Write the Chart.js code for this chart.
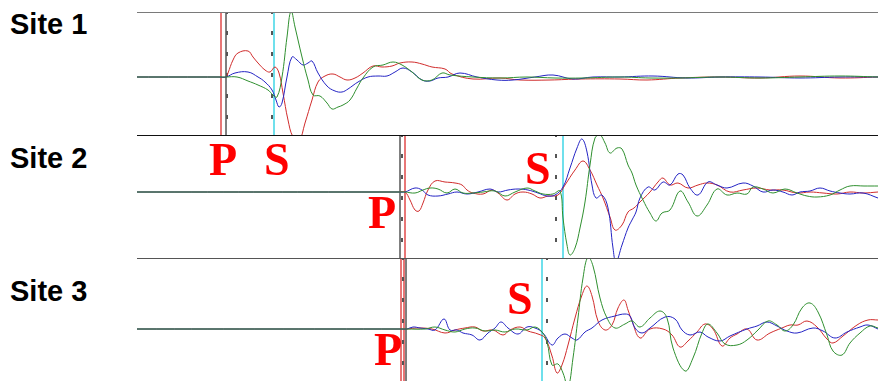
<!DOCTYPE html>
<html>
<head>
<meta charset="utf-8">
<script src="https://cdn.jsdelivr.net/npm/chart.js@4.4.0/dist/chart.umd.min.js"></script>
<style>
  body { margin: 0; background: #fff; width: 878px; height: 381px; overflow: hidden; position: relative; }
  canvas { position: absolute; left: 137px; }
  .rule { position: absolute; left: 137px; width: 741px; height: 1px; }
  .site { position: absolute; left: 10px; font: bold 29px "Liberation Sans", Arial, sans-serif; line-height: 1; color: #000; }
  .pick { position: absolute; font: bold 46px "Liberation Serif", "Times New Roman", serif; line-height: 1; color: #f00; }
</style>
</head>
<body>
<div class="rule" style="top:12px;background:#7a7a7a"></div>
<div class="rule" style="top:135px;background:#111"></div>
<div class="rule" style="top:258px;background:#555"></div>
<canvas id="site1" width="741" height="122" style="top:13px"></canvas>
<canvas id="site2" width="741" height="122" style="top:136px"></canvas>
<canvas id="site3" width="741" height="122" style="top:259px"></canvas>

<div class="site" style="top:10px">Site 1</div>
<div class="site" style="top:144px">Site 2</div>
<div class="site" style="top:277px">Site 3</div>

<div class="pick" style="left:209px;top:137px">P</div>
<div class="pick" style="left:264px;top:137px">S</div>
<div class="pick" style="left:368px;top:190px">P</div>
<div class="pick" style="left:525px;top:146px">S</div>
<div class="pick" style="left:374px;top:327px">P</div>
<div class="pick" style="left:507px;top:276px">S</div>

<script>
// time in samples (0..741), amplitude in counts, read from the record
const timeMax = 741

// Site 1
const site1Red = [[0,0],[82,0],[89,0],[91,4],[96,17],[101,24],[111,26],[116,20],[121,14],[128,7],[133,5],[138,10],[142,4],[146,-16],[151,-43],[156,-60],[162,-64],[168,-46],[175,-23],[181,-5],[188,1],[196,3],[203,0],[210,-3],[218,-1],[226,4],[236,11],[245,10],[255,11],[263,14],[275,15],[285,13],[295,10],[308,8],[315,3],[336,-2],[363,-1],[383,-3],[413,-3],[443,-2],[483,-2],[510,-3],[543,-1],[583,0],[623,-1],[663,1],[703,-1],[741,0]]
const site1Blue = [[0,0],[82,0],[89,0],[98,4],[111,5],[121,0],[128,-5],[135,-13],[139,-23],[142,-30],[145,-26],[150,0],[155,20],[160,17],[166,12],[171,14],[175,16],[181,4],[190,-9],[198,-14],[205,-15],[211,-12],[221,-5],[231,0],[241,1],[250,1],[258,5],[266,9],[275,5],[285,-3],[293,-4],[301,-1],[311,0],[323,4],[340,0],[360,-3],[376,-3],[398,0],[416,2],[436,-2],[456,0],[483,0],[516,1],[550,-1],[583,0],[623,0],[663,-1],[703,0],[741,0]]
const site1Green = [[0,0],[82,0],[89,0],[100,0],[111,-4],[121,-8],[131,-13],[136,-18],[140,-20],[145,0],[150,40],[154,66],[158,50],[165,20],[171,-3],[176,-18],[183,-19],[190,-26],[195,-32],[201,-30],[206,-28],[213,-23],[220,-11],[226,-1],[236,10],[246,12],[256,15],[265,12],[275,5],[285,-3],[295,-3],[305,4],[313,2],[336,0],[363,-1],[390,0],[418,-1],[446,-1],[483,0],[513,-1],[543,-1],[583,0],[623,-1],[663,0],[703,1],[741,0]]

// Site 2
const site2Red = [[0,0],[262,0],[268,0],[273,-8],[278,-18],[282,-19],[286,-11],[291,2],[298,11],[308,10],[318,9],[325,7],[330,2],[336,-1],[346,-2],[355,2],[361,-1],[370,-8],[378,-2],[386,0],[395,-2],[403,-6],[411,-4],[421,-3],[428,7],[438,22],[446,31],[453,22],[460,7],[466,-6],[473,-25],[478,-38],[485,-33],[491,-20],[497,-16],[503,-10],[513,0],[521,10],[526,14],[533,7],[541,9],[551,4],[561,7],[570,9],[580,7],[593,0],[606,2],[620,4],[633,2],[646,2],[660,-1],[673,0],[686,-1],[700,-2],[713,0],[726,-1],[741,0]]
const site2Blue = [[0,0],[262,0],[268,0],[278,4],[285,2],[291,-3],[301,-4],[311,-2],[320,0],[330,-2],[341,0],[353,3],[361,0],[371,2],[381,3],[391,2],[401,-1],[410,-4],[418,-3],[426,5],[433,24],[440,44],[445,53],[450,40],[455,7],[459,-6],[465,-3],[471,-16],[476,-56],[479,-70],[485,-53],[491,-36],[495,-28],[499,-20],[503,-6],[511,5],[518,2],[526,10],[533,7],[541,18],[546,17],[553,4],[561,-3],[571,10],[580,7],[590,4],[606,9],[616,6],[626,0],[636,2],[646,0],[655,-3],[663,0],[673,1],[683,4],[693,1],[703,-1],[713,-2],[726,-1],[741,-6]]
const site2Green = [[0,0],[262,0],[268,0],[278,-1],[286,2],[293,4],[301,3],[310,-1],[318,3],[326,-1],[336,-1],[346,0],[358,1],[368,-4],[378,0],[390,4],[398,1],[406,-2],[416,-2],[423,1],[426,-26],[430,-53],[433,-63],[438,-56],[443,-36],[448,-10],[453,27],[458,54],[463,57],[468,49],[473,39],[480,44],[485,43],[491,27],[495,19],[499,7],[506,-8],[513,-21],[519,-29],[525,-21],[533,-18],[543,1],[551,-10],[560,-24],[570,-13],[580,3],[590,-3],[600,-1],[610,-2],[616,5],[626,3],[636,-1],[648,3],[660,-1],[670,-4],[680,-5],[693,-3],[703,2],[713,6],[727,6],[741,6]]

// Site 3
const site3Red = [[0,0],[264,0],[270,0],[281,1],[295,0],[308,-4],[318,-1],[328,1],[338,2],[346,-2],[356,-1],[366,-6],[373,-1],[383,2],[391,-2],[401,-5],[408,-9],[415,-27],[420,-44],[425,-36],[431,-16],[438,11],[445,34],[450,43],[455,33],[461,8],[468,-1],[475,4],[481,21],[487,29],[491,19],[495,8],[503,-9],[513,0],[526,0],[535,-6],[543,-18],[551,-12],[560,-3],[568,5],[576,0],[585,-17],[593,-9],[600,-5],[610,0],[620,-11],[633,-4],[645,1],[653,4],[661,4],[670,8],[680,2],[690,-10],[696,-14],[706,-7],[720,4],[731,9],[741,9]]
const site3Blue = [[0,0],[264,0],[270,0],[276,2],[283,1],[291,0],[298,-1],[307,10],[313,-1],[320,-1],[326,-4],[335,-6],[343,-11],[351,-4],[358,1],[364,7],[371,1],[381,-5],[390,2],[398,1],[406,-4],[415,-16],[421,-9],[428,-5],[435,-9],[440,-11],[448,-3],[455,1],[465,9],[478,13],[488,15],[493,13],[498,1],[505,-4],[513,1],[528,12],[538,10],[545,-1],[553,-6],[563,-3],[571,-8],[583,-12],[593,-7],[610,0],[620,3],[630,7],[640,3],[650,-2],[660,-4],[676,1],[686,-2],[698,-9],[710,-3],[723,2],[731,4],[741,0]]
const site3Green = [[0,0],[264,0],[270,0],[288,0],[298,2],[308,-1],[318,-3],[328,0],[338,1],[348,-2],[358,-1],[368,-3],[378,0],[390,-1],[398,2],[405,-3],[410,-13],[415,-36],[421,-35],[426,-44],[431,-58],[436,-29],[441,11],[446,51],[451,72],[456,63],[463,31],[470,11],[478,1],[488,5],[495,8],[503,2],[513,11],[523,18],[530,11],[536,-19],[548,-42],[556,-29],[565,-4],[571,5],[580,-4],[588,-15],[600,-16],[610,-11],[621,-1],[631,8],[640,4],[648,-2],[656,4],[665,21],[673,26],[681,17],[690,-6],[696,-22],[705,-26],[713,-14],[723,-4],[733,3],[741,1]]

// picks: P onset (red), reference line (black), S onset (cyan), dashed theoretical marks
const site1Marks = { red: [84], black: [89], cyan: [137], dashed: [90, 135] }
const site2Marks = { red: [268], black: [263], cyan: [426], dashed: [265, 419] }
const site3Marks = { red: [264, 267], black: [269], cyan: [405], dashed: [266, 410] }

// amplitude window of each panel
const site1Range = [-58, 64]
const site2Range = [-66, 56]
const site3Range = [-52, 70]

function trace(points, color) {
  return {
    data: points.map(p => ({ x: p[0], y: p[1] })),
    borderColor: color,
    borderWidth: 1,
    pointRadius: 0,
    tension: 0.4,
    order: 1
  }
}

function vline(t, range, color, width, dash) {
  return {
    data: [{ x: t, y: range[0] - 5 }, { x: t, y: range[1] + 5 }],
    borderColor: color,
    borderWidth: width,
    borderDash: dash || [],
    pointRadius: 0,
    tension: 0,
    order: 5
  }
}

function build_panel(id, red, blue, green, marks, range) {
  // first dataset ends up on top: green baseline shows in front like the record
  let sets = [
    trace(green, '#2f8f2f'),
    trace(blue, '#2424c4'),
    trace(red, '#d02c2c')
  ]
  marks.dashed.forEach(t => sets.push(vline(t, range, '#555', 2, [4, 17])))
  marks.black.forEach(t => sets.push(vline(t, range, '#000', 1)))
  marks.red.forEach(t => sets.push(vline(t, range, '#e04a4a', 1.5)))
  marks.cyan.forEach(t => sets.push(vline(t, range, '#3fd6e6', 1.5)))

  new Chart(document.getElementById(id), {
    type: 'line',
    data: { datasets: sets },
    options: {
      responsive: false,
      animation: false,
      devicePixelRatio: 1,
      layout: { padding: 0 },
      plugins: { legend: { display: false }, tooltip: { enabled: false } },
      scales: {
        x: { type: 'linear', min: 0, max: timeMax, display: false },
        y: { min: range[0], max: range[1], display: false }
      }
    }
  })
}

build_panel('site1', site1Red, site1Blue, site1Green, site1Marks, site1Range)
build_panel('site2', site2Red, site2Blue, site2Green, site2Marks, site2Range)
build_panel('site3', site3Red, site3Blue, site3Green, site3Marks, site3Range)
</script>
</body>
</html>
